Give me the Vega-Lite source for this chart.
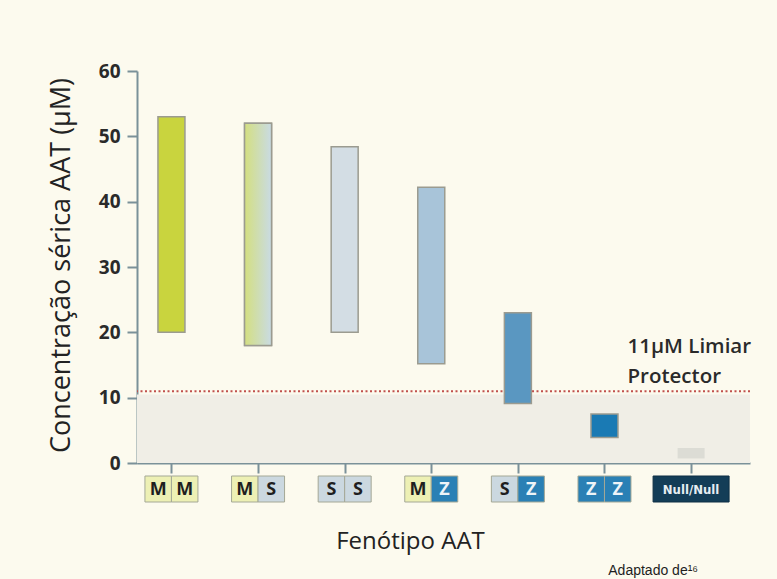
{
  "$schema": "https://vega.github.io/schema/vega-lite/v6.json",
  "width": 613,
  "height": 392,
  "autosize": {"type": "none"},
  "padding": {"left": 137, "top": 71, "right": 27, "bottom": 116},
  "background": "#fcfaee",
  "view": {"stroke": null},
  "title": {
    "text": "Adaptado de¹⁶",
    "orient": "bottom",
    "anchor": "end",
    "font": "Liberation Sans",
    "fontSize": 14,
    "fontWeight": "normal",
    "color": "#1e1e1e",
    "dx": -53,
    "offset": 11
  },
  "config": {
    "font": "Open Sans",
    "axis": {
      "domainColor": "#7a9199",
      "domainWidth": 2,
      "tickColor": "#7a9199",
      "tickWidth": 2,
      "tickSize": 10,
      "grid": false,
      "labelFont": "Open Sans",
      "labelFontWeight": "bold",
      "labelFontSize": 19,
      "labelColor": "#2a2a2a",
      "titleFont": "Open Sans",
      "titleFontWeight": "normal",
      "titleColor": "#222222"
    }
  },
  "datasets": {
    "bars": [
      {"pheno": "MM", "low": 20, "high": 53},
      {"pheno": "MS", "low": 18, "high": 52},
      {"pheno": "SS", "low": 20, "high": 48.4},
      {"pheno": "MZ", "low": 15.2, "high": 42.2},
      {"pheno": "SZ", "low": 9.1, "high": 23},
      {"pheno": "ZZ", "low": 3.9, "high": 7.5},
      {"pheno": "Null/Null", "low": 0.7, "high": 2.3}
    ],
    "cells": [
      {"pheno": "MM", "side": "L", "letter": "M"},
      {"pheno": "MM", "side": "R", "letter": "M"},
      {"pheno": "MS", "side": "L", "letter": "M"},
      {"pheno": "MS", "side": "R", "letter": "S"},
      {"pheno": "SS", "side": "L", "letter": "S"},
      {"pheno": "SS", "side": "R", "letter": "S"},
      {"pheno": "MZ", "side": "L", "letter": "M"},
      {"pheno": "MZ", "side": "R", "letter": "Z"},
      {"pheno": "SZ", "side": "L", "letter": "S"},
      {"pheno": "SZ", "side": "R", "letter": "Z"},
      {"pheno": "ZZ", "side": "L", "letter": "Z"},
      {"pheno": "ZZ", "side": "R", "letter": "Z"},
      {"pheno": "Null/Null", "side": "C", "letter": "Null/Null"}
    ],
    "threshold": [{"lo": 0, "shade": 10.5, "limit": 11, "note": "11μM Limiar", "note2": "Protector"}]
  },
  "layer": [
    {
      "data": {"name": "threshold"},
      "mark": {"type": "rect", "color": "#f0eee6"},
      "encoding": {
        "x": {"value": 0},
        "x2": {"value": "width"},
        "y": {"field": "lo", "type": "quantitative"},
        "y2": {"field": "shade"}
      }
    },
    {
      "data": {"name": "threshold"},
      "mark": {"type": "rule", "color": "#c0504d", "strokeWidth": 2, "strokeDash": [2, 2.5]},
      "encoding": {
        "y": {"field": "limit", "type": "quantitative"}
      }
    },
    {
      "data": {"name": "bars"},
      "mark": {"type": "bar", "width": 27, "stroke": "#9b9b90", "strokeWidth": 1.5},
      "encoding": {
        "x": {
          "field": "pheno",
          "type": "nominal",
          "scale": {"type": "point", "domain": ["MM", "MS", "SS", "MZ", "SZ", "ZZ", "Null/Null"], "padding": 0.539, "align": 0.369},
          "axis": {"labels": false, "title": "Fenótipo AAT", "titleFontSize": 24, "titleX": 273, "titleY": 85, "titleBaseline": "alphabetic", "titleAlign": "center", "titleAnchor": "middle"}
        },
        "y": {
          "field": "low",
          "type": "quantitative",
          "scale": {"domain": [0, 60], "nice": false},
          "axis": {"values": [0, 10, 20, 30, 40, 50, 60], "labelPadding": 7, "title": "Concentração sérica AAT (μM)", "titleFontSize": 27, "titleX": -68, "titleY": 194, "titleBaseline": "alphabetic", "titleAngle": -90, "titleAnchor": "middle", "titleAlign": "center"}
        },
        "y2": {"field": "high"},
        "color": {
          "field": "pheno",
          "type": "nominal",
          "scale": {"domain": ["MM", "MS", "SS", "MZ", "SZ", "ZZ", "Null/Null"], "range": ["#c9d43e", "#d6e08e", "#d3dde4", "#a8c4d9", "#5a97c1", "#1a7ab4", "#dcdcd5"]},
          "legend": null
        },
        "strokeOpacity": {"condition": {"test": "datum.pheno === 'Null/Null'", "value": 0}, "value": 1}
      }
    },
    {
      "data": {"name": "bars"},
      "transform": [{"filter": "datum.pheno === 'MS'"}],
      "mark": {
        "type": "bar",
        "width": 27,
        "stroke": "#9b9b90",
        "strokeWidth": 1.5,
        "fill": {"gradient": "linear", "x1": 0, "y1": 0, "x2": 1, "y2": 0, "stops": [{"offset": 0, "color": "#d4df80"}, {"offset": 1, "color": "#c9dbe4"}]}
      },
      "encoding": {
        "x": {"field": "pheno", "type": "nominal"},
        "y": {"field": "low", "type": "quantitative"},
        "y2": {"field": "high"}
      }
    },
    {
      "data": {"name": "threshold"},
      "mark": {"type": "text", "align": "left", "baseline": "alphabetic", "fontSize": 20.5, "fontWeight": 600, "color": "#2a2a2a", "xOffset": 23},
      "encoding": {
        "x": {"datum": "ZZ", "type": "nominal"},
        "y": {"datum": 16.85, "type": "quantitative"},
        "text": {"field": "note"}
      }
    },
    {
      "data": {"name": "threshold"},
      "mark": {"type": "text", "align": "left", "baseline": "alphabetic", "fontSize": 20.5, "fontWeight": 600, "color": "#2a2a2a", "xOffset": 23},
      "encoding": {
        "x": {"datum": "ZZ", "type": "nominal"},
        "y": {"datum": 12.25, "type": "quantitative"},
        "text": {"field": "note2"}
      }
    },
    {
      "data": {"name": "cells"},
      "transform": [{"filter": "datum.side === 'L'"}],
      "mark": {"type": "bar", "width": 26.5, "xOffset": -13.25, "yOffset": 13, "y2Offset": 39, "stroke": "#a4a896", "strokeWidth": 1},
      "encoding": {
        "x": {"field": "pheno", "type": "nominal"},
        "y": {"datum": 0, "type": "quantitative"},
        "y2": {"datum": 0},
        "fill": {"field": "letter", "type": "nominal", "scale": {"domain": ["M", "S", "Z", "Null/Null"], "range": ["#edf0b4", "#cbd8e0", "#2a80b5", "#133d57"]}, "legend": null}
      }
    },
    {
      "data": {"name": "cells"},
      "transform": [{"filter": "datum.side === 'R'"}],
      "mark": {"type": "bar", "width": 26.5, "xOffset": 13.25, "yOffset": 13, "y2Offset": 39, "stroke": "#a4a896", "strokeWidth": 1},
      "encoding": {
        "x": {"field": "pheno", "type": "nominal"},
        "y": {"datum": 0, "type": "quantitative"},
        "y2": {"datum": 0},
        "fill": {"field": "letter", "type": "nominal", "legend": null}
      }
    },
    {
      "data": {"name": "cells"},
      "transform": [{"filter": "datum.side === 'C'"}],
      "mark": {"type": "bar", "width": 76, "yOffset": 13, "y2Offset": 39, "stroke": "#0e2f44", "strokeWidth": 1},
      "encoding": {
        "x": {"field": "pheno", "type": "nominal"},
        "y": {"datum": 0, "type": "quantitative"},
        "y2": {"datum": 0},
        "fill": {"field": "letter", "type": "nominal", "legend": null}
      }
    },
    {
      "data": {"name": "cells"},
      "transform": [{"filter": "datum.side === 'L'"}],
      "mark": {"type": "text", "xOffset": -13.25, "yOffset": 26.5, "baseline": "middle", "align": "center", "fontSize": 18, "fontWeight": "bold"},
      "encoding": {
        "x": {"field": "pheno", "type": "nominal"},
        "y": {"datum": 0, "type": "quantitative"},
        "text": {"field": "letter"},
        "color": {"condition": {"test": "datum.letter === 'Z'", "value": "#eef4f8"}, "value": "#1f1f1f"}
      }
    },
    {
      "data": {"name": "cells"},
      "transform": [{"filter": "datum.side === 'R'"}],
      "mark": {"type": "text", "xOffset": 13.25, "yOffset": 26.5, "baseline": "middle", "align": "center", "fontSize": 18, "fontWeight": "bold"},
      "encoding": {
        "x": {"field": "pheno", "type": "nominal"},
        "y": {"datum": 0, "type": "quantitative"},
        "text": {"field": "letter"},
        "color": {"condition": {"test": "datum.letter === 'Z'", "value": "#eef4f8"}, "value": "#1f1f1f"}
      }
    },
    {
      "data": {"name": "cells"},
      "transform": [{"filter": "datum.side === 'C'"}],
      "mark": {"type": "text", "yOffset": 26.5, "baseline": "middle", "align": "center", "fontSize": 13, "fontWeight": "bold", "font": "Liberation Sans Narrow, DejaVu Sans Condensed, Liberation Sans", "color": "#e6edf2"},
      "encoding": {
        "x": {"field": "pheno", "type": "nominal"},
        "y": {"datum": 0, "type": "quantitative"},
        "text": {"field": "letter"}
      }
    }
  ]
}
